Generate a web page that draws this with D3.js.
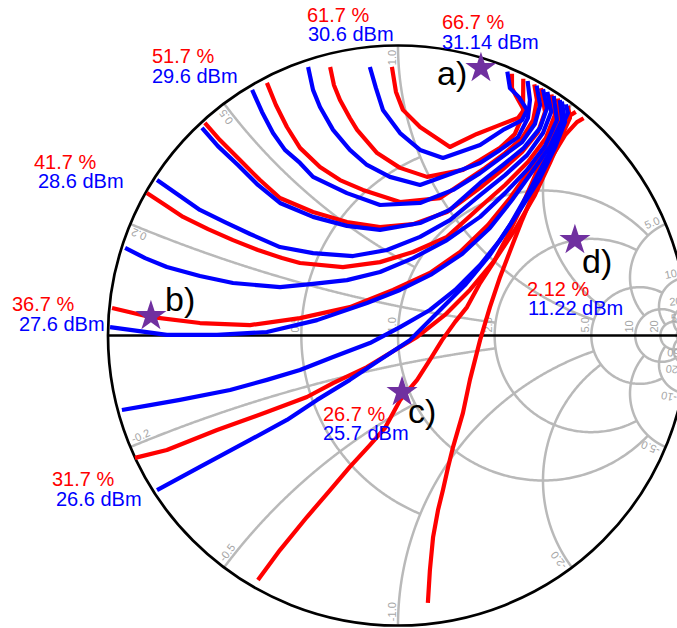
<!DOCTYPE html>
<html><head><meta charset="utf-8">
<script src="https://cdn.jsdelivr.net/npm/d3@7"></script>
<style>
body{margin:0;background:#fff}
svg{display:block}
text{font-family:"Liberation Sans",Arial,Helvetica,sans-serif}
</style>
</head><body>
<svg id="chart" width="677" height="628"></svg>
<script>
// ---------------- Smith chart grid values ----------------
const circleValues = [0.5, 1, 2, 5, 10, 20, 50];
const circleLimits = [1, 5, 5, 10, 20, 50, Infinity];
const arcValues    = [0.2, 0.5, 1, 2, 5, 10, 20, 50];
const arcLimits    = [2, 1, 5, 5, 10, 20, 50, Infinity];
const resistanceTicks = ["0.5", "1.0", "2.0", "5.0", "10", "20"];
const reactanceTicks  = ["0.2", "0.5", "1.0", "2.0", "5.0", "10", "20", "50"];

// ---------------- contour levels ----------------
const effLevels = [61.7, 56.7, 51.7, 46.7, 41.7, 36.7, 31.7, 26.7, 21.7];   // %
const powLevels = [30.6, 30.1, 29.6, 29.1, 28.6, 28.1, 27.6, 27.1, 26.6];   // dBm

// efficiency contours (reflection coefficient, re/im)
const eff1 = [[-0.021,0.926],[-0.007,0.840],[0.017,0.778],[0.076,0.719],[0.179,0.650],[0.272,0.695],[0.341,0.722],[0.414,0.750],[0.434,0.778],[0.407,0.826],[0.393,0.853],[0.393,0.903]];
const eff2 = [[-0.234,0.926],[-0.221,0.864],[-0.200,0.812],[-0.166,0.750],[-0.141,0.709],[-0.072,0.629],[0.007,0.578],[0.100,0.547],[0.224,0.571],[0.283,0.605],[0.352,0.647],[0.403,0.695],[0.431,0.760],[0.432,0.885]];
const eff3 = [[-0.452,0.871],[-0.421,0.795],[-0.383,0.719],[-0.338,0.647],[-0.269,0.581],[-0.200,0.536],[-0.121,0.502],[0.007,0.460],[0.145,0.474],[0.238,0.536],[0.300,0.578],[0.369,0.629],[0.428,0.681],[0.466,0.743],[0.479,0.812],[0.470,0.866]];
const eff4 = [[-0.666,0.733],[-0.614,0.674],[-0.545,0.605],[-0.476,0.536],[-0.407,0.474],[-0.293,0.426],[-0.176,0.391],[-0.062,0.374],[0.052,0.384],[0.169,0.426],[0.283,0.509],[0.359,0.571],[0.428,0.633],[0.483,0.702],[0.507,0.771],[0.493,0.853]];
const eff5 = [[-0.866,0.491],[-0.803,0.450],[-0.741,0.409],[-0.655,0.367],[-0.569,0.329],[-0.483,0.295],[-0.400,0.267],[-0.338,0.250],[-0.190,0.236],[-0.062,0.253],[0.052,0.288],[0.169,0.340],[0.283,0.443],[0.369,0.519],[0.448,0.598],[0.510,0.681],[0.541,0.760],[0.529,0.831]];
const eff6 = [[-0.986,0.095],[-0.855,0.064],[-0.683,0.043],[-0.510,0.036],[-0.338,0.060],[-0.166,0.098],[-0.017,0.157],[0.110,0.216],[0.214,0.288],[0.310,0.381],[0.386,0.474],[0.455,0.571],[0.517,0.664],[0.559,0.750],[0.551,0.817]];
const eff7 = [[-0.907,-0.422],[-0.797,-0.395],[-0.624,-0.326],[-0.452,-0.264],[-0.314,-0.212],[-0.224,-0.164],[-0.107,-0.109],[-0.010,-0.050],[0.066,-0.005],[0.162,0.071],[0.248,0.157],[0.334,0.260],[0.403,0.364],[0.472,0.484],[0.524,0.595],[0.566,0.691],[0.593,0.750],[0.586,0.792]];
const eff8 = [[-0.483,-0.843],[-0.407,-0.740],[-0.314,-0.626],[-0.234,-0.533],[-0.166,-0.453],[-0.097,-0.378],[-0.045,-0.319],[0.007,-0.223],[0.066,-0.153],[0.110,-0.084],[0.152,-0.016],[0.197,0.047],[0.238,0.098],[0.283,0.181],[0.328,0.250],[0.376,0.340],[0.421,0.433],[0.466,0.536],[0.507,0.633],[0.545,0.709],[0.579,0.750],[0.613,0.771]];
const eff9 = [[0.103,-0.922],[0.110,-0.809],[0.121,-0.695],[0.138,-0.602],[0.155,-0.533],[0.172,-0.457],[0.190,-0.384],[0.224,-0.267],[0.248,-0.153],[0.283,-0.016],[0.317,0.098],[0.352,0.202],[0.397,0.319],[0.428,0.398],[0.472,0.502],[0.524,0.605],[0.576,0.691],[0.617,0.736],[0.640,0.749]];

// output power contours
const pow1 = [[-0.097,0.926],[-0.076,0.853],[-0.052,0.778],[0.007,0.698],[0.076,0.640],[0.155,0.612],[0.283,0.657],[0.362,0.709],[0.428,0.743],[0.445,0.778],[0.417,0.822],[0.386,0.853],[0.377,0.910]];
const pow2 = [[-0.310,0.926],[-0.293,0.847],[-0.269,0.788],[-0.224,0.709],[-0.166,0.640],[-0.107,0.588],[-0.028,0.547],[0.076,0.519],[0.190,0.560],[0.283,0.595],[0.352,0.640],[0.414,0.684],[0.448,0.750],[0.455,0.812],[0.447,0.878]];
const pow3 = [[-0.503,0.847],[-0.469,0.771],[-0.431,0.698],[-0.390,0.640],[-0.338,0.595],[-0.293,0.547],[-0.176,0.491],[-0.062,0.450],[0.076,0.457],[0.190,0.502],[0.283,0.560],[0.359,0.616],[0.428,0.667],[0.472,0.729],[0.490,0.795],[0.478,0.862]];
const pow4 = [[-0.676,0.716],[-0.621,0.653],[-0.552,0.588],[-0.483,0.519],[-0.407,0.457],[-0.293,0.409],[-0.176,0.378],[-0.062,0.364],[0.076,0.388],[0.179,0.433],[0.283,0.526],[0.362,0.588],[0.434,0.647],[0.490,0.716],[0.514,0.784],[0.500,0.849]];
const pow5 = [[-0.831,0.536],[-0.752,0.481],[-0.683,0.433],[-0.597,0.391],[-0.510,0.350],[-0.407,0.305],[-0.293,0.284],[-0.155,0.274],[-0.038,0.295],[0.076,0.340],[0.179,0.398],[0.283,0.484],[0.369,0.553],[0.445,0.622],[0.500,0.698],[0.528,0.771],[0.515,0.840]];
const pow6 = [[-0.941,0.302],[-0.872,0.267],[-0.797,0.236],[-0.683,0.205],[-0.569,0.181],[-0.407,0.167],[-0.293,0.178],[-0.176,0.191],[-0.062,0.219],[0.052,0.267],[0.169,0.329],[0.283,0.409],[0.369,0.491],[0.445,0.571],[0.507,0.653],[0.548,0.743],[0.537,0.826]];
const pow7 = [[-0.993,0.029],[-0.797,0.002],[-0.624,0.002],[-0.452,0.012],[-0.279,0.053],[-0.107,0.112],[0.007,0.157],[0.117,0.212],[0.221,0.281],[0.317,0.371],[0.393,0.467],[0.462,0.564],[0.524,0.653],[0.566,0.743],[0.558,0.812]];
const pow8 = [[-0.952,-0.257],[-0.855,-0.240],[-0.752,-0.222],[-0.579,-0.188],[-0.452,-0.153],[-0.338,-0.119],[-0.224,-0.074],[-0.097,-0.026],[0.007,0.029],[0.110,0.088],[0.197,0.157],[0.283,0.243],[0.352,0.329],[0.421,0.433],[0.490,0.543],[0.541,0.647],[0.576,0.736],[0.565,0.807]];
const pow9 = [[-0.831,-0.533],[-0.683,-0.453],[-0.510,-0.360],[-0.383,-0.291],[-0.279,-0.222],[-0.166,-0.153],[-0.062,-0.084],[0.041,-0.016],[0.145,0.088],[0.231,0.174],[0.317,0.278],[0.386,0.381],[0.455,0.502],[0.517,0.622],[0.559,0.709],[0.586,0.767],[0.579,0.797]];

// marked load points a) b) c) d)
const pointNames = ["a)", "b)", "c)", "d)"];
const pointGamma = [[0.286,0.922],[-0.852,0.067],[0.014,-0.195],[0.610,0.329]];

// annotations (efficiency / power values)
const noteEff = ["66.7 %", "61.7 %", "51.7 %", "41.7 %", "36.7 %", "31.7 %", "26.7 %", "2.12 %"];
const notePow = ["31.14 dBm", "30.6 dBm", "29.6 dBm", "28.6 dBm", "27.6 dBm", "26.6 dBm", "25.7 dBm", "11.22 dBm"];

// ---------------- layout ----------------
const CX = 398, CY = 335.5, R = 290;
const noteLayout = [[442,29,442,49],[307,22,308,41],[152,63,152,83],[34,169,38,188],[12,311,19,331],[52,486,56,506],[323,421,323,440],[527,296,528,315]];
const nameLayout = [[437,85],[165,311],[408,423],[582,273]];
const RED = "#ff0000", BLUE = "#0000ff", GRID = "#b9b9b9", GRIDTXT = "#a6a6a6", STAR = "#7030a0";

const svg = d3.select("#chart");
svg.append("rect").attr("width",677).attr("height",628).attr("fill","#fff");

const x = d3.scaleLinear().domain([-1,1]).range([CX-R, CX+R]);
const y = d3.scaleLinear().domain([-1,1]).range([CY+R, CY-R]);
const line = d3.line().x(d=>x(d[0])).y(d=>y(d[1]));

function gam(r, xx){
  const d = (r+1)*(r+1) + xx*xx;
  return [(r*r + xx*xx - 1)/d, 2*xx/d];
}
function circlePts(v, E){
  const a = E === Infinity ? Math.PI/2 - 1e-7 : Math.atan(E);
  const pts = [];
  for (let i=0;i<=500;i++){ const t = -a + 2*a*i/500; pts.push(gam(v, Math.tan(t))); }
  return pts;
}
function arcPts(v, E){
  const a = E === Infinity ? Math.PI/2 - 1e-7 : Math.atan(E);
  const pts = [];
  for (let i=0;i<=400;i++){ const t = a*i/400; pts.push(gam(Math.tan(t), v)); }
  return pts;
}

const grid = svg.append("g").attr("fill","none").attr("stroke",GRID).attr("stroke-width",2.5);
circleValues.forEach((v,i)=>{
  grid.append("path").attr("d", line(circlePts(v, circleLimits[i])));
});
arcValues.forEach((v,i)=>{
  grid.append("path").attr("d", line(arcPts(v, arcLimits[i])));
  grid.append("path").attr("d", line(arcPts(-v, arcLimits[i])));
});

// grid labels
const gl = svg.append("g").attr("fill",GRIDTXT).attr("font-size",11);
resistanceTicks.forEach(t=>{
  const v = +t;
  const gx = (v-1)/(v+1);
  gl.append("text").attr("transform",`translate(${x(gx)},${y(0)}) rotate(-90)`)
    .attr("x",3).attr("y",-2.5).attr("text-anchor","start").text(t);
});
reactanceTicks.forEach(t=>{
  [1,-1].forEach(s=>{
    const v = s*(+t);
    const g0 = gam(0, v);
    const th = Math.atan2(g0[1], g0[0]);
    const phi = th > 0 ? th : th + Math.PI;
    const px = x(0.985*Math.cos(th)), py = y(0.985*Math.sin(th));
    gl.append("text").attr("transform",`translate(${px},${py}) rotate(${-phi*180/Math.PI})`)
      .attr("y",-2.5).attr("text-anchor", th > 0 ? "end" : "start")
      .text(s<0 ? "-"+t : t);
  });
});

// outer circle and real axis
svg.append("circle").attr("cx",x(0)).attr("cy",y(0)).attr("r",x(1)-x(0))
  .attr("fill","none").attr("stroke","#000").attr("stroke-width",2.7);
svg.append("line").attr("x1",x(-1)).attr("x2",x(1)).attr("y1",y(0)).attr("y2",y(0))
  .attr("stroke","#000").attr("stroke-width",2.7);

// contours
const effContours = [eff1,eff2,eff3,eff4,eff5,eff6,eff7,eff8,eff9];
const powContours = [pow1,pow2,pow3,pow4,pow5,pow6,pow7,pow8,pow9];
const cg = svg.append("g").attr("fill","none").attr("stroke-width",4.2)
  .attr("stroke-linejoin","round").attr("stroke-linecap","butt");
effContours.forEach((c,i)=>cg.append("path").attr("d",line(c)).attr("stroke",RED).attr("data-level",effLevels[i]));
powContours.forEach((c,i)=>cg.append("path").attr("d",line(c)).attr("stroke",BLUE).attr("data-level",powLevels[i]));

// stars
const star = d3.symbol().type(d3.symbolStar).size(300);
pointGamma.forEach(p=>{
  svg.append("path").attr("d",star()).attr("transform",`translate(${x(p[0])},${y(p[1])})`).attr("fill",STAR);
});
pointNames.forEach((n,i)=>{
  svg.append("text").attr("x",nameLayout[i][0]).attr("y",nameLayout[i][1]).attr("font-size",34).attr("fill","#000").text(n);
});

// annotations
noteEff.forEach((t,i)=>{
  const L = noteLayout[i];
  svg.append("text").attr("x",L[0]).attr("y",L[1]).attr("font-size",20).attr("fill",RED).text(t);
  svg.append("text").attr("x",L[2]).attr("y",L[3]).attr("font-size",20).attr("fill",BLUE).text(notePow[i]);
});
</script>
</body></html>
